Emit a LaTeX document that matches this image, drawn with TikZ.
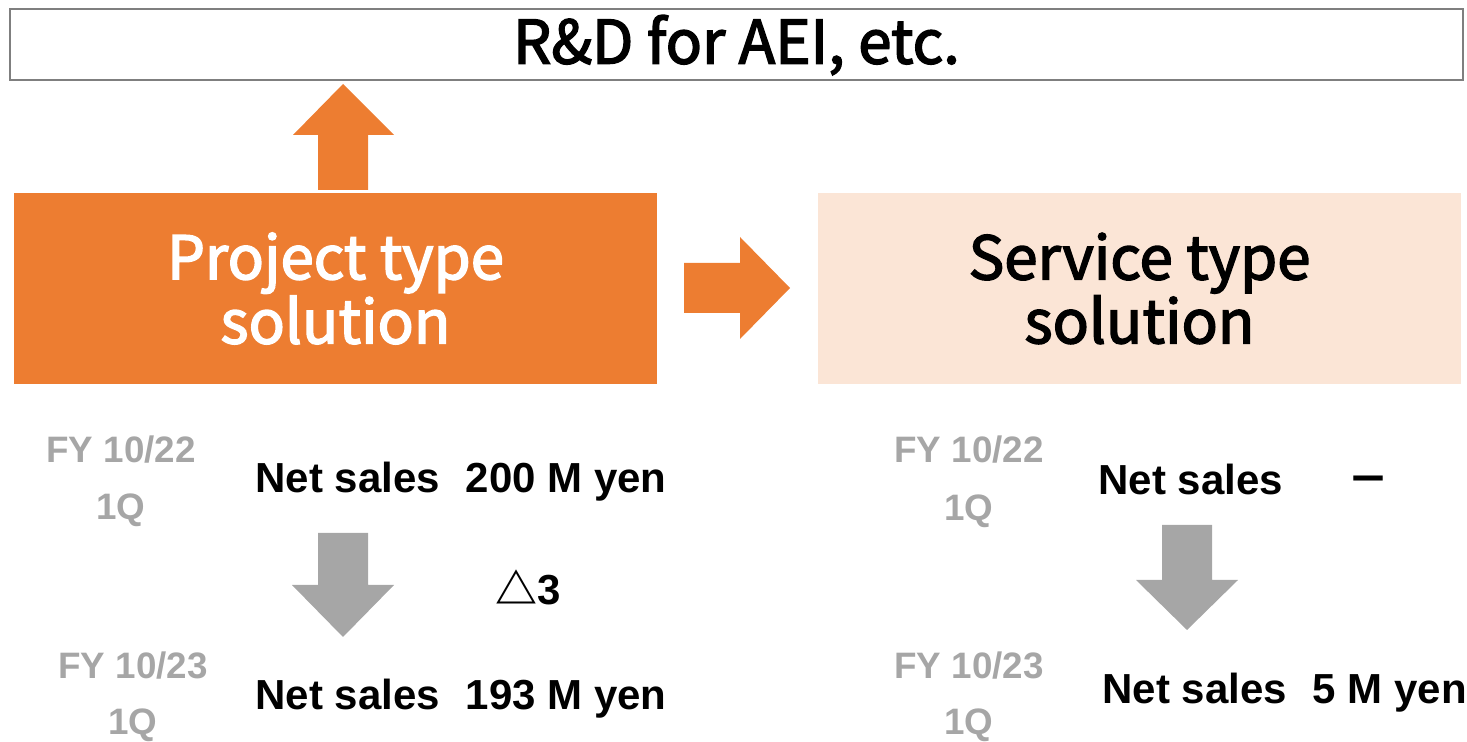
\documentclass[tikz,border=0pt]{standalone}
\usepackage{fontspec}
\setmainfont{Liberation Sans}
\newfontfamily\gothic[FakeBold=2.5]{Noto Sans CJK JP}
\newfontfamily\gothicthin{Noto Sans CJK JP}
\usetikzlibrary{positioning}
\definecolor{orng}{HTML}{ED7D31}
\definecolor{peach}{HTML}{FBE5D6}
\definecolor{arrgray}{HTML}{A6A6A6}
\definecolor{framegray}{HTML}{7F7F7F}
\newcommand\gap{\hspace{13pt}}
\begin{document}
\begin{tikzpicture}[x=0.5pt,y=-0.5pt,
  bigbox/.style={minimum width=321.5pt,minimum height=95.5pt,inner sep=0pt,align=center,
    font=\gothic\fontsize{30}{29.5}\selectfont},
  fylabel/.style={text=arrgray,font=\bfseries\fontsize{18.4}{20}\selectfont},
  sales/.style={anchor=base west,inner sep=0pt,font=\bfseries\fontsize{21}{24}\selectfont}]
\useasboundingbox (0,0) rectangle (1467,742);
% top frame
\node[draw=framegray,line width=1pt,minimum width=726.5pt,minimum height=35.5pt,inner sep=0pt,
  font=\gothic\fontsize{30}{30}\selectfont] (rd) at (736.5,45) {R\&D for AEI, etc.};
% the two solution boxes
\node[bigbox,fill=orng,text=white] (proj) at (335.5,288.5) {Project type\\solution};
\node[bigbox,fill=peach] (serv) at (1139.5,288.5) {Service type\\solution};
% block arrows
\fill[orng] (318,190) -- (318,135) -- (293,135) -- (343,84) -- (394,135) -- (368,135) -- (368,190) -- cycle;
\fill[orng] (684,263) -- (740,263) -- (740,237) -- (790,288) -- (740,339) -- (740,313) -- (684,313) -- cycle;
\foreach \x/\t/\h/\b in {343/533/585/637, 1187/525/580/630}
  \fill[arrgray] (\x-25,\t) -- (\x+25,\t) -- (\x+25,\h) -- (\x+51,\h) -- (\x,\b) -- (\x-51,\h) -- (\x-25,\h) -- cycle;
% periods
\node[fylabel] (fyA) at (121,450) {FY 10/22};
\node[fylabel] (qA) at (121,510) {1Q};
\node[fylabel] (fyB) at (133,666) {FY 10/23};
\node[fylabel] (qB) at (133,725) {1Q};
\node[fylabel] (fyC) at (969,450) {FY 10/22};
\node[fylabel] (qC) at (969,511) {1Q};
\node[fylabel] (fyD) at (969,666) {FY 10/23};
\node[fylabel] (qD) at (969,725) {1Q};
% net sales
\node[sales] (salesA) at (255,493) {Net sales\gap 200 M yen};
\node[sales] (salesB) at (255,709) {Net sales\gap 193 M yen};
\node[sales] (diffA) at (495,604) {{\gothicthin △}3};
\node[sales] (salesC) at (1098,495) {Net sales};
\node[sales] (dashC) at (1347,495) {\gothicthin －};
\node[sales] (salesD) at (1102,704) {Net sales\gap 5 M yen};
\end{tikzpicture}
\end{document}
